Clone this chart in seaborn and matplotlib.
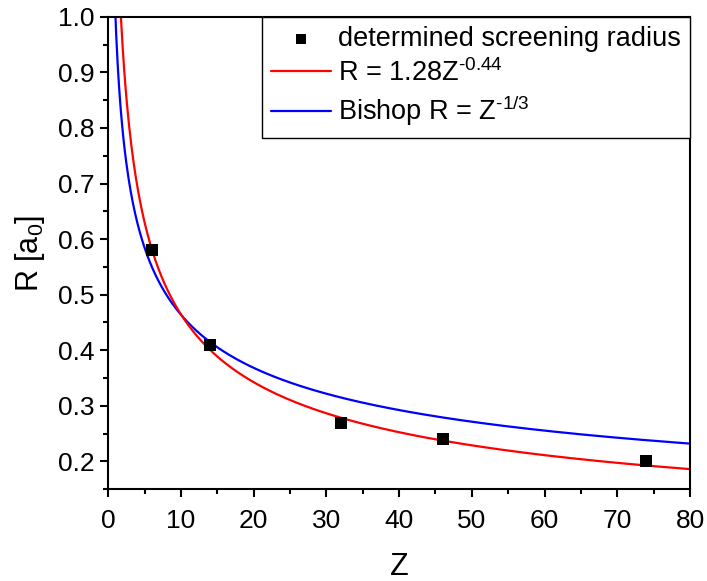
import numpy as np
import pandas as pd
import matplotlib
matplotlib.use("Agg")
import matplotlib.pyplot as plt
import seaborn as sns

# Measured screening radii
z_points = [6, 14, 32, 46, 74]
r_points = [0.58, 0.41, 0.27, 0.24, 0.20]

# Fit and Bishop model parameters
fit_coef = 1.28
fit_exp = -0.44
bishop_exp = -1.0 / 3.0

sns.set_theme(style="ticks")
plt.rcParams["font.family"] = ["Liberation Sans", "DejaVu Sans"]
plt.rcParams["mathtext.fontset"] = "custom"
plt.rcParams["mathtext.rm"] = "Liberation Sans"
plt.rcParams["mathtext.it"] = "Liberation Sans:italic"
plt.rcParams["text.color"] = "black"

fig, ax = plt.subplots(figsize=(7.07, 5.81), dpi=100)
fig.subplots_adjust(left=0.153, right=0.976, top=0.971, bottom=0.158)

z_curve = np.linspace(0.3, 80, 800)
curves = pd.DataFrame({
    "Z": np.concatenate([z_curve, z_curve]),
    "R": np.concatenate([fit_coef * z_curve ** fit_exp, z_curve ** bishop_exp]),
    "model": ["fit"] * len(z_curve) + ["bishop"] * len(z_curve),
})
points = pd.DataFrame({"Z": z_points, "R": r_points})

sns.scatterplot(data=points, x="Z", y="R", ax=ax, marker="s", s=80,
                color="black", edgecolor="black", linewidth=0,
                label="determined screening radius", zorder=3)
sns.lineplot(data=curves[curves.model == "fit"], x="Z", y="R", ax=ax,
             color="#ff0000", linewidth=1.6,
             label=r"R = 1.28Z$^{\text{-0.44}}$", zorder=2)
sns.lineplot(data=curves[curves.model == "bishop"], x="Z", y="R", ax=ax,
             color="#0000ff", linewidth=1.6,
             label=r"Bishop R = Z$^{\text{-1/3}}$", zorder=1)

ax.set_xlim(0, 80)
ax.set_ylim(0.15, 1.0)
ax.set_xticks(np.arange(0, 81, 10))
ax.set_xticks(np.arange(5, 80, 10), minor=True)
ax.set_yticks(np.arange(0.2, 1.01, 0.1))
ax.set_yticks(np.arange(0.15, 1.0, 0.1), minor=True)
ax.set_yticklabels([f"{v:.1f}" for v in np.arange(0.2, 1.01, 0.1)])

ax.tick_params(axis="both", which="major", direction="out", length=6, width=1.5,
               labelsize=19, color="black", labelcolor="black")
ax.tick_params(axis="x", which="major", pad=8)
ax.tick_params(axis="both", which="minor", direction="out", length=3.5, width=1.5,
               color="black")
for sp in ax.spines.values():
    sp.set_linewidth(1.5)
    sp.set_color("black")

ax.set_xlabel("Z", fontsize=22, labelpad=14, color="black")
ax.set_ylabel(r"R [a$_\mathregular{0}$]", fontsize=22, labelpad=8, color="black")

leg = ax.legend(loc="upper right", fontsize=19.5, frameon=True, fancybox=False,
                edgecolor="black", borderaxespad=0, handlelength=2.2,
                handletextpad=0.25, borderpad=0.35, labelspacing=0.25,
                markerscale=0.85, framealpha=1)
leg.get_frame().set_linewidth(1.0)

fig.savefig("out.png", dpi=100)
